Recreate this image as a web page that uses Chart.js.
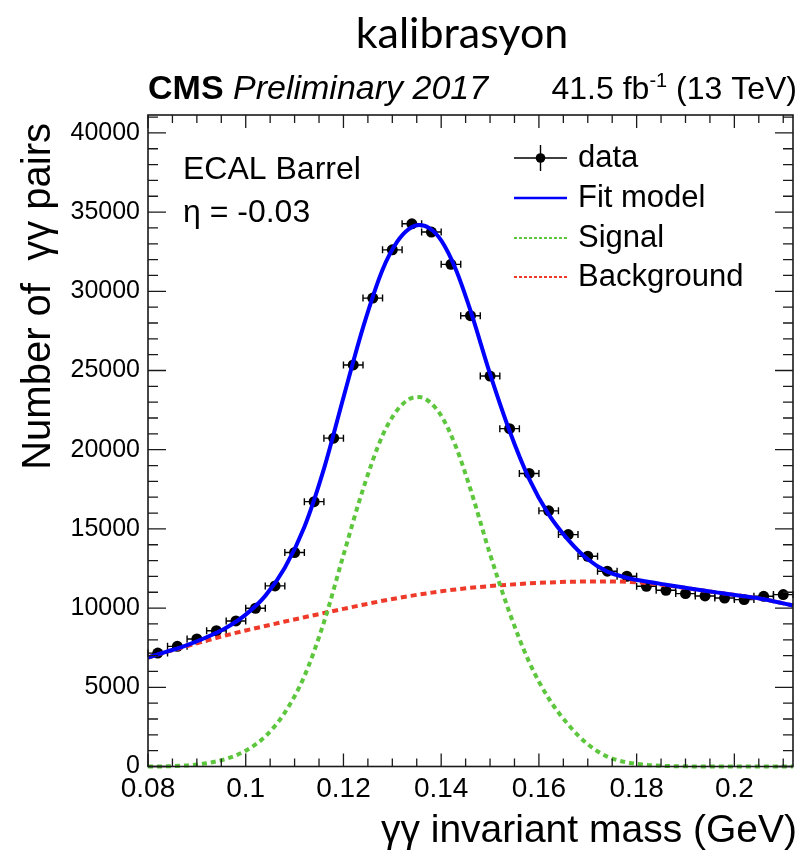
<!DOCTYPE html>
<html>
<head>
<meta charset="utf-8">
<script src="https://cdn.jsdelivr.net/npm/chart.js@4.4.1/dist/chart.umd.min.js"></script>
<style>
  html, body { margin: 0; padding: 0; background: #ffffff; }
  canvas { display: block; }
</style>
</head>
<body>
<canvas id="c" width="812" height="853"></canvas>
<script>
// Diphoton invariant-mass bins (GeV, bin centres) and counts per bin
const massBins = [0.082, 0.086, 0.090, 0.094, 0.098, 0.102, 0.106, 0.110, 0.114, 0.118, 0.122,
                  0.126, 0.130, 0.134, 0.138, 0.142, 0.146, 0.150, 0.154, 0.158, 0.162, 0.166,
                  0.170, 0.174, 0.178, 0.182, 0.186, 0.190, 0.194, 0.198, 0.202, 0.206, 0.210];
const counts = [7160, 7585, 8050, 8570, 9190, 9990, 11400, 13510, 16720, 20730, 25350,
                29570, 32616, 34260, 33740, 31700, 28460, 24650, 21330, 18500, 16140, 14640,
                13274, 12330, 12010, 11380, 11125, 10916, 10765, 10638, 10537, 10746, 10853];
const binHalfWidth = 0.002;

// Mass points (GeV) at which the fitted curves are tabulated
const curveMass = [0.080, 0.084, 0.088, 0.092, 0.096, 0.100, 0.104, 0.108, 0.112, 0.116, 0.120,
                   0.124, 0.128, 0.131, 0.1335, 0.1355, 0.1375, 0.140, 0.143, 0.146, 0.150, 0.154,
                   0.158, 0.162, 0.166, 0.170, 0.174, 0.178, 0.182, 0.186, 0.190, 0.194, 0.198,
                   0.202, 0.206, 0.210, 0.212];
const fitModel = [6880, 7265, 7670, 8160, 8760, 9590, 10770, 12550, 15120, 18790, 23300,
                  27710, 31360, 33130, 33960, 34180, 34000, 33210, 31380, 28780, 24790, 21180,
                  18160, 15920, 14310, 13080, 12300, 11920, 11680, 11475, 11280, 11090, 10920,
                  10750, 10560, 10300, 10160];
const signal = [0, 15, 70, 210, 480, 1000, 1900, 3400, 5700, 9100, 13350,
                17500, 20900, 22500, 23200, 23320, 23050, 22150, 20200, 17500, 13400, 9700,
                6600, 4300, 2650, 1400, 620, 260, 100, 35, 10, 0, 0,
                0, 0, 0, 0];
const background = [6880, 7250, 7600, 7950, 8280, 8590, 8870, 9150, 9420, 9690, 9950,
                    10210, 10460, 10630, 10760, 10860, 10950, 11060, 11180, 11280, 11390, 11480,
                    11560, 11620, 11660, 11680, 11680, 11660, 11580, 11440, 11270, 11090, 10920,
                    10750, 10560, 10300, 10160];

// Axis ranges and labelled ticks
const xRange = [0.08, 0.212];
const yRange = [0, 41130];
const xTicks = [0.08, 0.10, 0.12, 0.14, 0.16, 0.18, 0.20];
const yTicks = [0, 5000, 10000, 15000, 20000, 25000, 30000, 35000, 40000];
const xMinorStep = 0.005;
const yMinorStep = 1000;

const HELV = '"Liberation Sans", Arial, Helvetica, sans-serif';
const COLORS = { data: '#000000', fit: '#0000ff', signal: '#5cc63c', background: '#ef3a2a' };

function pts(xs, ys) { return xs.map((x, i) => ({ x: x, y: ys[i] })); }

// White page background
const bgPlugin = {
  id: 'pageBg',
  beforeDraw(chart) {
    const ctx = chart.ctx;
    ctx.save();
    ctx.fillStyle = '#ffffff';
    ctx.fillRect(0, 0, chart.width, chart.height);
    ctx.restore();
  }
};

// Horizontal bin-width bars under the data markers
const errorBarPlugin = {
  id: 'binBars',
  beforeDatasetsDraw(chart) {
    const ctx = chart.ctx, xs = chart.scales.x, ys = chart.scales.y;
    ctx.save();
    ctx.strokeStyle = COLORS.data;
    ctx.lineWidth = 1.4;
    massBins.forEach((m, i) => {
      const y = ys.getPixelForValue(counts[i]);
      const x0 = xs.getPixelForValue(m - binHalfWidth);
      const x1 = xs.getPixelForValue(m + binHalfWidth);
      ctx.beginPath();
      ctx.moveTo(x0, y); ctx.lineTo(x1, y);
      ctx.moveTo(x0, y - 3.5); ctx.lineTo(x0, y + 3.5);
      ctx.moveTo(x1, y - 3.5); ctx.lineTo(x1, y + 3.5);
      ctx.stroke();
    });
    ctx.restore();
  }
};

// Frame with inward major/minor ticks on all four sides, plus labels and legend
const framePlugin = {
  id: 'frameAndText',
  afterDraw(chart) {
    const ctx = chart.ctx, a = chart.chartArea;
    const xs = chart.scales.x, ys = chart.scales.y;
    ctx.save();
    ctx.strokeStyle = '#1a1a1a';
    ctx.lineWidth = 1.6;
    ctx.strokeRect(a.left, a.top, a.right - a.left, a.bottom - a.top);

    ctx.lineWidth = 1.3;
    ctx.beginPath();
    for (let v = xRange[0]; v <= xRange[1] + 1e-9; v += xMinorStep) {
      const vv = Math.round(v * 1000) / 1000;
      const major = xTicks.some(t => Math.abs(t - vv) < 1e-6);
      const len = major ? 13 : 8;
      const px = xs.getPixelForValue(vv);
      ctx.moveTo(px, a.bottom); ctx.lineTo(px, a.bottom - len);
      ctx.moveTo(px, a.top); ctx.lineTo(px, a.top + len);
    }
    for (let v = yRange[0]; v <= yRange[1]; v += yMinorStep) {
      const major = yTicks.includes(v);
      const len = major ? 18 : 10;
      const py = ys.getPixelForValue(v);
      ctx.moveTo(a.left, py); ctx.lineTo(a.left + len, py);
      ctx.moveTo(a.right, py); ctx.lineTo(a.right - len, py);
    }
    ctx.stroke();

    // Page title
    ctx.fillStyle = '#000000';
    ctx.textBaseline = 'alphabetic';
    ctx.textAlign = 'center';
    ctx.font = '43px Lato, "Open Sans", sans-serif';
    ctx.fillText('kalibrasyon', 462, 48);

    // CMS header
    ctx.textAlign = 'left';
    ctx.font = 'bold 34px ' + HELV;
    ctx.fillText('CMS', 148, 99);
    const wCms = ctx.measureText('CMS ').width;
    ctx.font = 'italic 34px ' + HELV;
    ctx.fillText('Preliminary 2017', 148 + wCms, 99);

    // Luminosity label, right aligned
    ctx.font = '32px ' + HELV;
    const partA = '41.5 fb', partC = ' (13 TeV)';
    const wA = ctx.measureText(partA).width;
    const wC = ctx.measureText(partC).width;
    ctx.font = '20px ' + HELV;
    const wB = ctx.measureText('-1').width;
    const xEnd = 797;
    const xStart = xEnd - wA - wB - wC;
    ctx.font = '32px ' + HELV;
    ctx.fillText(partA, xStart, 99);
    ctx.fillText(partC, xStart + wA + wB, 99);
    ctx.font = '20px ' + HELV;
    ctx.fillText('-1', xStart + wA, 87);

    // Region labels inside the frame
    ctx.font = '32px ' + HELV;
    ctx.fillText('ECAL Barrel', 183, 179);
    ctx.fillText('\u03B7 = -0.03', 183, 222);

    // Axis titles
    ctx.font = '39px ' + HELV;
    ctx.textAlign = 'right';
    ctx.fillText('\u03B3\u03B3 invariant mass (GeV)', 797, 842);
    ctx.save();
    ctx.translate(50, 123);
    ctx.rotate(-Math.PI / 2);
    ctx.textAlign = 'right';
    ctx.font = '40px ' + HELV;
    ctx.fillText('Number of  \u03B3\u03B3 pairs', 0, 0);
    ctx.restore();

    // Legend
    const lx0 = 514, lx1 = 567, tx = 578;
    const rows = [158, 198, 238, 277];
    ctx.textAlign = 'left';
    ctx.textBaseline = 'middle';
    ctx.font = '31px ' + HELV;
    // data
    ctx.strokeStyle = COLORS.data;
    ctx.lineWidth = 1.4;
    ctx.beginPath();
    ctx.moveTo(lx0, rows[0]); ctx.lineTo(lx1, rows[0]);
    ctx.moveTo((lx0 + lx1) / 2, rows[0] - 13); ctx.lineTo((lx0 + lx1) / 2, rows[0] + 13);
    ctx.stroke();
    ctx.fillStyle = COLORS.data;
    ctx.beginPath();
    ctx.arc((lx0 + lx1) / 2, rows[0], 4.8, 0, Math.PI * 2);
    ctx.fill();
    // fit model
    ctx.strokeStyle = COLORS.fit;
    ctx.lineWidth = 2.6;
    ctx.beginPath(); ctx.moveTo(lx0, rows[1]); ctx.lineTo(lx1, rows[1]); ctx.stroke();
    // signal and background
    ctx.lineWidth = 2;
    ctx.setLineDash([3, 2]);
    ctx.strokeStyle = COLORS.signal;
    ctx.beginPath(); ctx.moveTo(lx0, rows[2]); ctx.lineTo(lx1, rows[2]); ctx.stroke();
    ctx.strokeStyle = COLORS.background;
    ctx.beginPath(); ctx.moveTo(lx0, rows[3]); ctx.lineTo(lx1, rows[3]); ctx.stroke();
    ctx.setLineDash([]);
    ctx.fillStyle = '#000000';
    ctx.fillText('data', tx, rows[0]);
    ctx.fillText('Fit model', tx, rows[1]);
    ctx.fillText('Signal', tx, rows[2]);
    ctx.fillText('Background', tx, rows[3]);
    ctx.restore();
  }
};

new Chart(document.getElementById('c'), {
  type: 'scatter',
  data: {
    datasets: [
      {
        label: 'Fit model',
        data: pts(curveMass, fitModel),
        showLine: true,
        borderColor: COLORS.fit,
        borderWidth: 4,
        pointRadius: 0,
        cubicInterpolationMode: 'monotone',
        clip: 6,
        order: 0
      },
      {
        label: 'Signal',
        data: pts(curveMass, signal),
        showLine: true,
        borderColor: COLORS.signal,
        borderWidth: 4,
        borderDash: [5, 4],
        pointRadius: 0,
        cubicInterpolationMode: 'monotone',
        clip: 6,
        order: 1
      },
      {
        label: 'Background',
        data: pts(curveMass, background),
        showLine: true,
        borderColor: COLORS.background,
        borderWidth: 4,
        borderDash: [6, 4],
        pointRadius: 0,
        cubicInterpolationMode: 'monotone',
        clip: 6,
        order: 2
      },
      {
        label: 'data',
        data: pts(massBins, counts),
        showLine: false,
        pointRadius: 5.5,
        pointBackgroundColor: COLORS.data,
        pointBorderColor: COLORS.data,
        pointBorderWidth: 0,
        order: 3
      }
    ]
  },
  options: {
    responsive: false,
    animation: false,
    devicePixelRatio: 1,
    layout: { padding: { top: 115, right: 19, bottom: 0, left: 0 } },
    plugins: { legend: { display: false }, tooltip: { enabled: false }, title: { display: false } },
    scales: {
      x: {
        type: 'linear',
        min: xRange[0],
        max: xRange[1],
        grid: { display: false, drawTicks: false },
        border: { display: false },
        afterBuildTicks: s => { s.ticks = xTicks.map(v => ({ value: v })); },
        afterFit: s => { s.height = 86.5; },
        ticks: {
          autoSkip: false,
          maxRotation: 0,
          padding: 6,
          color: '#000000',
          font: { family: HELV, size: 28 },
          callback: v => String(Number(v.toFixed(3)))
        }
      },
      y: {
        type: 'linear',
        min: yRange[0],
        max: yRange[1],
        grid: { display: false, drawTicks: false },
        border: { display: false },
        afterBuildTicks: s => { s.ticks = yTicks.map(v => ({ value: v })); },
        afterFit: s => { s.width = 148; },
        ticks: {
          autoSkip: false,
          padding: 8,
          color: '#000000',
          font: { family: HELV, size: 25 },
          callback: v => String(v)
        }
      }
    }
  },
  plugins: [bgPlugin, errorBarPlugin, framePlugin]
});
</script>
</body>
</html>
